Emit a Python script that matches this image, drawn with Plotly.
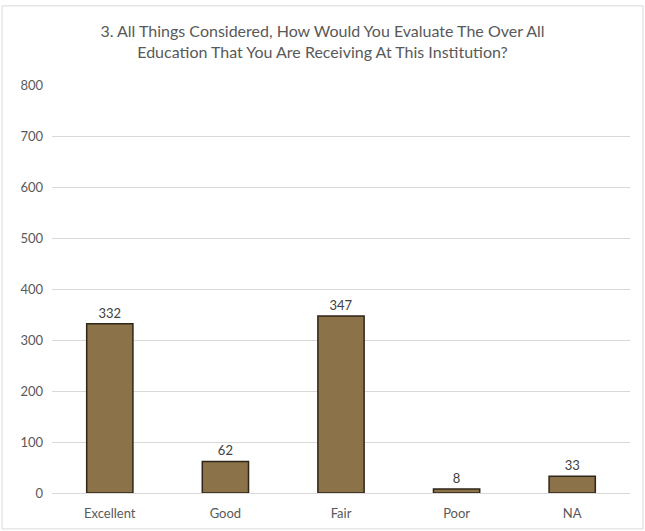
import plotly.graph_objects as go

categories = ["Excellent", "Good", "Fair", "Poor", "NA"]
values = [332, 62, 347, 8, 33]
title = "3. All Things Considered, How Would You Evaluate The Over All<br>Education That You Are Receiving At This Institution?"

FONT = "Lato, Open Sans, sans-serif"

fig = go.Figure(go.Bar(
    x=categories, y=values, width=0.4,
    marker=dict(color="#8B7249", line=dict(color="#2e2618", width=1.5)),
    text=values, textposition="outside",
    textfont=dict(size=13, color="#404040", family=FONT),
    cliponaxis=False,
))

fig.update_layout(
    width=645, height=531,
    margin=dict(l=52, r=15, t=85, b=38, autoexpand=False),
    paper_bgcolor="white", plot_bgcolor="white",
    font=dict(family=FONT, color="#595959", size=13),
    title=dict(text=title, x=0.5, xanchor="center", y=0.93, yanchor="middle",
               font=dict(size=16, color="#595959")),
    showlegend=False,
)
fig.update_yaxes(range=[0, 800], dtick=100, showgrid=True, gridcolor="#d9d9d9",
                 gridwidth=1, zeroline=False, showline=False, ticks="",
                 tickfont=dict(size=13, color="#595959"), ticklabelstandoff=8,
                 automargin=False)
fig.update_xaxes(showline=True, linecolor="#d9d9d9", linewidth=1, ticks="",
                 tickfont=dict(size=13, color="#595959"), ticklabelstandoff=8,
                 automargin=False)
fig.add_shape(type="rect", xref="paper", yref="paper",
              x0=-0.0865, x1=1.0225, y0=-0.088, y1=1.194,
              line=dict(color="#d9d9d9", width=1), layer="below")

fig.write_html("out.html", config={"displayModeBar": False},
               post_script="document.body.style.margin='0';")
